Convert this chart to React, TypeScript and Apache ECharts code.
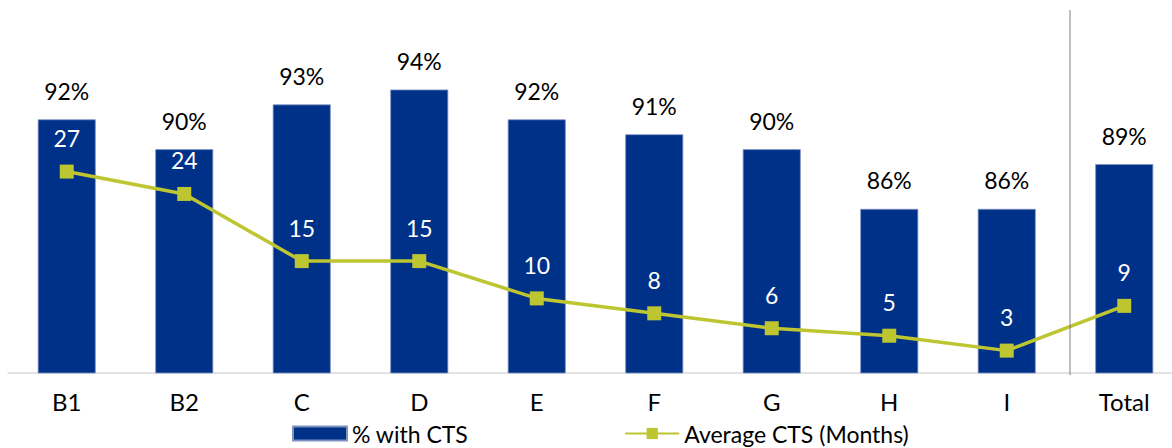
import React, { useEffect, useRef } from "react";
import * as echarts from "echarts";

const categories = ["B1", "B2", "C", "D", "E", "F", "G", "H", "I", "Total"];
const pctWithCts = [92, 90, 93, 94, 92, 91, 90, 86, 86, 89];
const avgCtsMonths = [27, 24, 15, 15, 10, 8, 6, 5, 3, 9];

const FONT = "Lato";

export default function App() {
  const ref = useRef<HTMLDivElement>(null);
  useEffect(() => {
    document.documentElement.style.overflow = "hidden";
    document.body.style.overflow = "hidden";
    const chart = echarts.init(ref.current!, null, { renderer: "svg" });
    chart.setOption({
      animation: false,
      textStyle: { fontFamily: FONT },
      grid: { left: 8, right: 0, top: -2, bottom: 75, containLabel: false },
      legend: {
        left: 292,
        top: 422,
        padding: 0,
        itemGap: 156,
        itemWidth: 54,
        itemHeight: 14,
        textStyle: { fontFamily: FONT, fontSize: 23, color: "#000" },
        data: [
          { name: "% with CTS", icon: "rect" },
          { name: "Average CTS (Months)" },
        ],
      },
      xAxis: {
        type: "category",
        data: categories,
        axisLine: { lineStyle: { color: "#d9d9d9", width: 1.5 } },
        axisTick: { show: false },
        axisLabel: { color: "#000", fontSize: 24, fontFamily: FONT, margin: 16 },
      },
      yAxis: [
        { type: "value", min: 75, max: 100, show: false, splitLine: { show: false } },
        { type: "value", min: 0, max: 50, show: false, splitLine: { show: false } },
      ],
      series: [
        {
          name: "% with CTS",
          type: "bar",
          data: pctWithCts,
          barWidth: 58,
          itemStyle: { color: "#003189", borderColor: "#7f93c0", borderWidth: 0.8 },
          label: {
            show: true,
            position: "top",
            distance: 17,
            formatter: "{c}%",
            color: "#000",
            fontSize: 23,
            fontFamily: FONT,
          },
        },
        {
          name: "Average CTS (Months)",
          type: "line",
          yAxisIndex: 1,
          data: avgCtsMonths,
          symbol: "rect",
          symbolSize: 14,
          lineStyle: { color: "#BDC531", width: 3.5 },
          itemStyle: { color: "#BDC531" },
          label: {
            show: true,
            position: "top",
            distance: 15,
            color: "#fff",
            fontSize: 23,
            fontFamily: FONT,
          },
        },
      ],
      graphic: [
        {
          type: "line",
          shape: { x1: 1070, y1: 10, x2: 1070, y2: 375 },
          style: { stroke: "#7f7f7f", lineWidth: 1 },
          z: 10,
        },
      ],
    });
    return () => chart.dispose();
  }, []);
  return (
    <div
      ref={ref}
      style={{ position: "absolute", left: 0, top: 0, width: 1183, height: 448, background: "#fff" }}
    />
  );
}
